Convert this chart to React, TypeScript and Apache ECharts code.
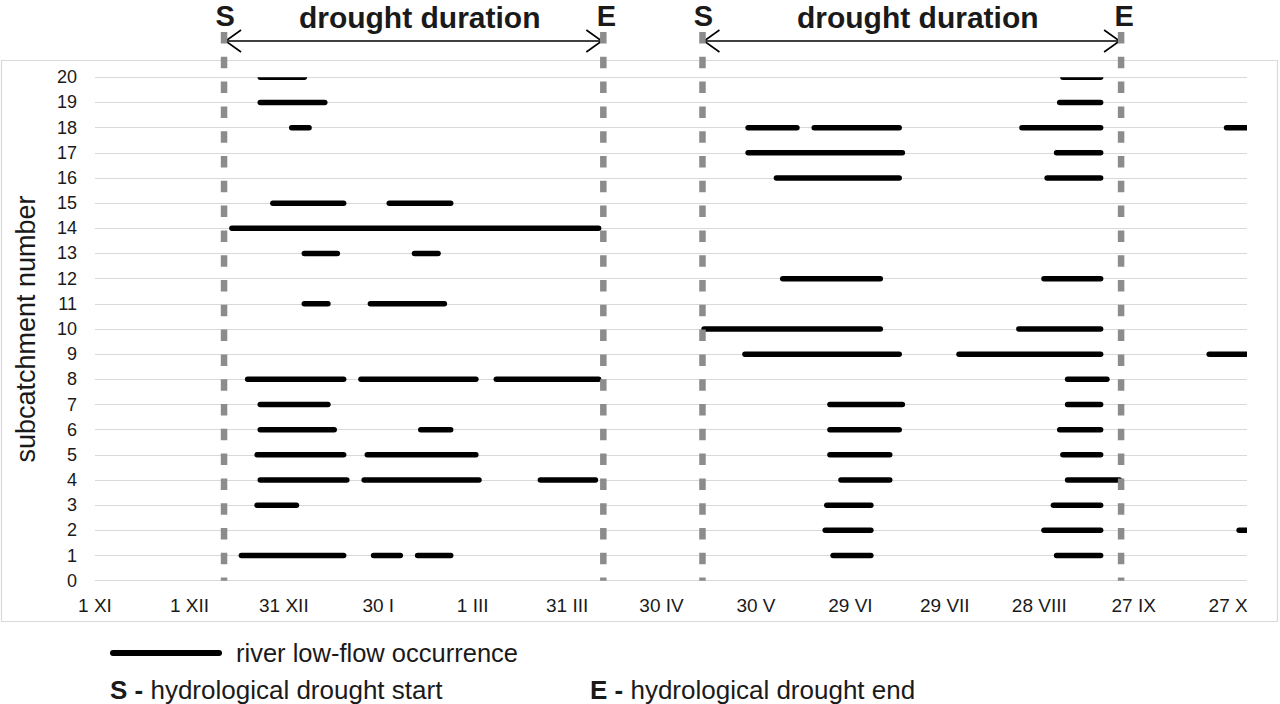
import React, { useEffect, useRef } from "react";
import * as echarts from "echarts";

// x axis: days counted from 1 November (0) ; ticks every 30 days
const xTickLabels = ["1 XI", "1 XII", "31 XII", "30 I", "1 III", "31 III", "30 IV", "30 V", "29 VI", "29 VII", "28 VIII", "27 IX", "27 X"];
const dayMin = 0;
const dayMax = 366;
const tickStep = 30;
const rowMin = 0;
const rowMax = 20;

// river low-flow occurrence segments: subcatchment number, start day, end day
const segRow = [
  20, 19, 18, 15, 15, 14, 13, 13, 11, 11, 8, 8, 8, 7, 6, 6, 5, 5, 4, 4, 4, 3, 1, 1, 1,
  20, 19, 18, 18, 18, 18, 17, 17, 16, 16, 12, 12, 10, 10, 9, 9, 9, 8, 7, 7, 6, 6, 5, 5, 4, 4, 3, 3, 2, 2, 2, 1, 1,
];
const segStart = [
  52.5, 52.5, 62.5, 56.5, 93.5, 43.5, 66.5, 101.5, 66.5, 87.5, 48.5, 84.5, 127.5, 52.5, 52.5, 103.5, 51.5, 86.5, 52.5, 85.5, 141.5, 51.5, 46.5, 88.5, 102.5,
  307.5, 306.5, 207.5, 228.5, 294.5, 359.5, 207.5, 305.5, 216.5, 302.5, 218.5, 301.5, 193.5, 293.5, 206.5, 274.5, 354, 309, 233.5, 309, 233.5, 306.5, 233.5, 307.5, 237, 309, 232.5, 304.5, 232, 301.5, 363.5, 234.5, 305.5,
];
const segEnd = [
  66.5, 73, 68, 79, 113, 160, 77, 109, 74, 111, 79, 121, 160, 74, 76, 113, 79, 121, 80, 122, 159, 64, 79, 97, 113,
  319.5, 319.5, 223, 255.5, 319.5, 366, 256.5, 319.5, 255.5, 319.5, 249.5, 319.5, 249.5, 319.5, 255.5, 319.5, 366, 321.5, 256.5, 319.5, 255.5, 319.5, 252.5, 319.5, 252.5, 325.5, 246.5, 319.5, 246.5, 319.5, 366, 246.5, 319.5,
];

// hydrological drought periods (days from 1 XI)
const droughtStart = [41, 193];
const droughtEnd = [161.5, 326];

const FONT = "Liberation Sans, Arial, sans-serif";

export default function App() {
  const ref = useRef<HTMLDivElement>(null);

  useEffect(() => {
    if (!ref.current) return;
    const chart = echarts.init(ref.current, undefined, { renderer: "svg" });
    const segData = segRow.map((r, i) => [segStart[i], segEnd[i], r]);

    chart.setOption({
      animation: false,
      backgroundColor: "#ffffff",
      textStyle: { fontFamily: FONT },
      grid: { left: 95, right: 33, top: 77.3, bottom: 123.3, containLabel: false },
      xAxis: {
        type: "value",
        min: dayMin,
        max: dayMax,
        interval: tickStep,
        axisLine: { show: false },
        axisTick: { show: false },
        splitLine: { show: false },
        axisLabel: {
          color: "#1a1a1a",
          fontSize: 19,
          fontFamily: FONT,
          margin: 15,
          formatter: (v: number) => (v % tickStep === 0 ? xTickLabels[v / tickStep] ?? "" : ""),
        },
      },
      yAxis: {
        type: "value",
        min: rowMin,
        max: rowMax,
        interval: 1,
        name: "subcatchment number",
        nameLocation: "middle",
        nameGap: 56,
        nameTextStyle: { fontSize: 27, color: "#1a1a1a", fontFamily: FONT },
        axisLine: { show: false },
        axisTick: { show: false },
        axisLabel: { color: "#1a1a1a", fontSize: 18, fontFamily: FONT, margin: 18 },
        splitLine: { show: true, lineStyle: { color: "#d9d9d9", width: 1.2 } },
      },
      series: [
        {
          type: "custom",
          name: "river low-flow occurrence",
          coordinateSystem: "cartesian2d",
          clip: true,
          data: segData,
          encode: { x: [0, 1], y: 2 },
          z: 3,
          renderItem: (params: any, api: any) => {
            const p1 = api.coord([api.value(0), api.value(2)]);
            const p2 = api.coord([api.value(1), api.value(2)]);
            return {
              type: "line",
              shape: { x1: p1[0], y1: p1[1], x2: p2[0], y2: p2[1] },
              style: { stroke: "#000000", lineWidth: 5.5, lineCap: "round" },
            };
          },
        },
      ],
    });

    const px = (d: number) => chart.convertToPixel({ xAxisIndex: 0 }, d) as number;
    const yTop = 32;
    const yBottom = chart.convertToPixel({ yAxisIndex: 0 }, rowMin) as number;
    const arrowY = 41;
    const graphics: any[] = [
      {
        type: "rect",
        z: -10,
        shape: { x: 1.5, y: 60.5, width: 1276, height: 561 },
        style: { fill: "none", stroke: "#d9d9d9", lineWidth: 1.2 },
      },
      // legend
      {
        type: "line",
        shape: { x1: 113, y1: 653, x2: 219, y2: 653 },
        style: { stroke: "#000", lineWidth: 6, lineCap: "round" },
      },
      {
        type: "text",
        x: 236,
        y: 653,
        style: { text: "river low-flow occurrence", fill: "#1a1a1a", font: `25.5px ${FONT}`, verticalAlign: "middle", align: "left" },
      },
      {
        type: "text",
        x: 110,
        y: 690,
        style: {
          text: "{b|S -} hydrological drought start",
          fill: "#1a1a1a",
          font: `26px ${FONT}`,
          verticalAlign: "middle",
          align: "left",
          rich: { b: { font: `bold 26px ${FONT}`, fill: "#1a1a1a" } },
        },
      },
      {
        type: "text",
        x: 590,
        y: 690,
        style: {
          text: "{b|E -} hydrological drought end",
          fill: "#1a1a1a",
          font: `26px ${FONT}`,
          verticalAlign: "middle",
          align: "left",
          rich: { b: { font: `bold 26px ${FONT}`, fill: "#1a1a1a" } },
        },
      },
    ];

    droughtStart.forEach((s, i) => {
      const xs = px(s);
      const xe = px(droughtEnd[i]);
      [xs, xe].forEach((x) => {
        graphics.push({
          type: "line",
          z: 100,
          shape: { x1: x, y1: yTop, x2: x, y2: yBottom },
          style: { stroke: "#8c8c8c", lineWidth: 6.5, lineDash: [11.5, 13.3] },
        });
      });
      graphics.push({
        type: "line",
        z: 50,
        shape: { x1: xs + 1, y1: arrowY, x2: xe - 1, y2: arrowY },
        style: { stroke: "#000", lineWidth: 1.6 },
      });
      graphics.push({
        type: "polyline",
        z: 50,
        shape: { points: [[xs + 17, arrowY - 11], [xs + 1.5, arrowY], [xs + 17, arrowY + 11]] },
        style: { stroke: "#000", lineWidth: 1.6, fill: "none" },
      });
      graphics.push({
        type: "polyline",
        z: 50,
        shape: { points: [[xe - 17, arrowY - 11], [xe - 1.5, arrowY], [xe - 17, arrowY + 11]] },
        style: { stroke: "#000", lineWidth: 1.6, fill: "none" },
      });
      graphics.push({
        type: "text",
        x: xs + 1,
        y: 16,
        style: { text: "S", fill: "#1a1a1a", font: `bold 29px ${FONT}`, align: "center", verticalAlign: "middle" },
      });
      graphics.push({
        type: "text",
        x: xe + 3,
        y: 16,
        style: { text: "E", fill: "#1a1a1a", font: `bold 29px ${FONT}`, align: "center", verticalAlign: "middle" },
      });
      graphics.push({
        type: "text",
        x: (xs + xe) / 2 + 6,
        y: 17,
        style: { text: "drought duration", fill: "#1a1a1a", font: `bold 30px ${FONT}`, align: "center", verticalAlign: "middle" },
      });
    });

    chart.setOption({ graphic: graphics });

    return () => chart.dispose();
  }, []);

  return <div ref={ref} style={{ position: "fixed", left: 0, top: 0, width: 1280, height: 704 }} />;
}
